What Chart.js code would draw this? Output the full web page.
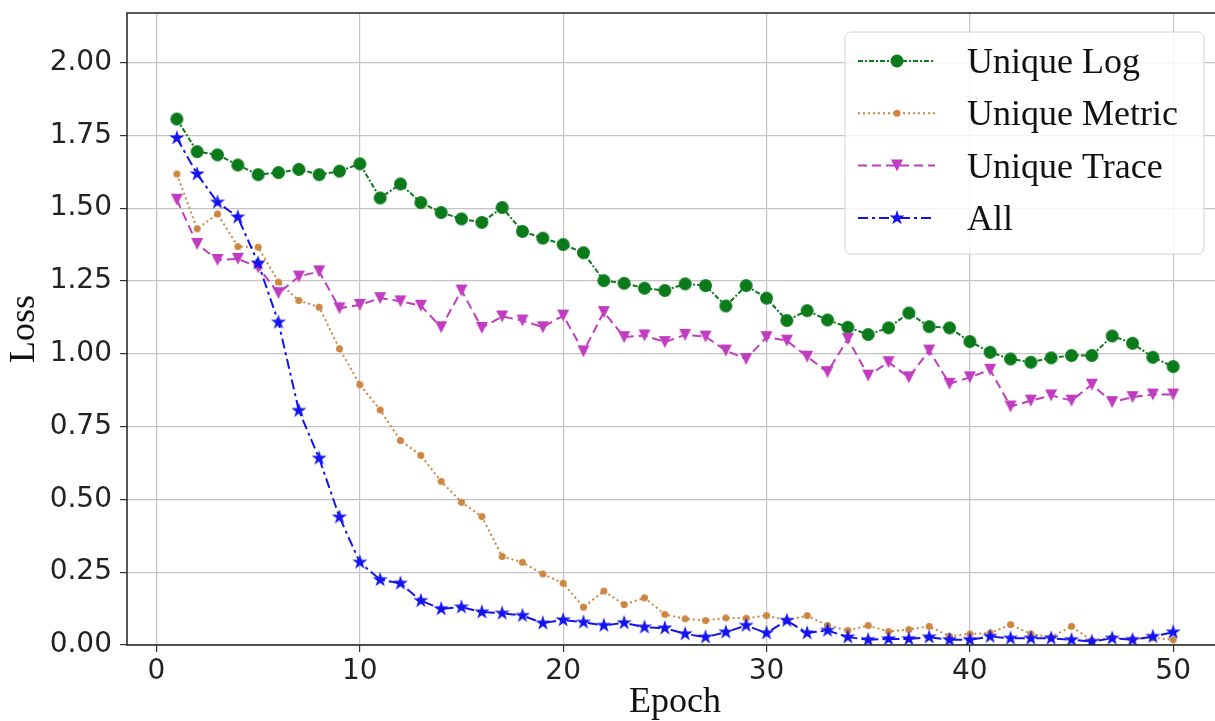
<!DOCTYPE html>
<html>
<head>
<meta charset="utf-8">
<script src="https://cdn.jsdelivr.net/npm/chart.js@4.4.1/dist/chart.umd.min.js"></script>
<style>
  html, body { margin: 0; padding: 0; background: #fff; overflow: hidden; }
  #wrap { position: absolute; left: 0; top: 0; width: 1233px; height: 721px; }
</style>
</head>
<body>
<div id="wrap"><canvas id="chart" width="1233" height="721"></canvas></div>
<script>
// data
const epochs = [1, 2, 3, 4, 5, 6, 7, 8, 9, 10, 11, 12, 13, 14, 15, 16, 17, 18, 19, 20,
  21, 22, 23, 24, 25, 26, 27, 28, 29, 30, 31, 32, 33, 34, 35, 36, 37, 38, 39, 40,
  41, 42, 43, 44, 45, 46, 47, 48, 49, 50];

const uniqueLog = [1.806, 1.694, 1.683, 1.648, 1.615, 1.622, 1.633, 1.615, 1.627, 1.652,
  1.535, 1.583, 1.519, 1.485, 1.463, 1.451, 1.502, 1.420, 1.397, 1.375,
  1.347, 1.251, 1.242, 1.225, 1.217, 1.240, 1.234, 1.164, 1.234, 1.191,
  1.114, 1.148, 1.116, 1.091, 1.066, 1.089, 1.140, 1.093, 1.089, 1.042,
  1.005, 0.982, 0.971, 0.986, 0.994, 0.994, 1.061, 1.036, 0.988, 0.956];

const uniqueMetric = [1.617, 1.429, 1.480, 1.368, 1.366, 1.246, 1.183, 1.160, 1.017, 0.894,
  0.807, 0.702, 0.651, 0.562, 0.490, 0.441, 0.304, 0.284, 0.244, 0.212,
  0.130, 0.185, 0.139, 0.162, 0.105, 0.090, 0.084, 0.093, 0.092, 0.101,
  0.085, 0.101, 0.067, 0.050, 0.067, 0.046, 0.053, 0.064, 0.030, 0.038,
  0.041, 0.070, 0.038, 0.027, 0.064, 0.015, 0.025, 0.020, 0.025, 0.018];

const uniqueTrace = [1.529, 1.377, 1.322, 1.326, 1.297, 1.208, 1.265, 1.283, 1.156, 1.168,
  1.191, 1.180, 1.165, 1.091, 1.217, 1.089, 1.128, 1.114, 1.091, 1.131,
  1.008, 1.143, 1.057, 1.063, 1.040, 1.065, 1.059, 1.011, 0.982, 1.057,
  1.045, 0.990, 0.937, 1.051, 0.925, 0.971, 0.919, 1.011, 0.897, 0.919,
  0.945, 0.819, 0.839, 0.857, 0.839, 0.894, 0.834, 0.851, 0.860, 0.860];

const allLoss = [1.741, 1.617, 1.520, 1.469, 1.311, 1.108, 0.805, 0.641, 0.439, 0.284,
  0.224, 0.212, 0.152, 0.124, 0.130, 0.113, 0.109, 0.101, 0.075, 0.086,
  0.078, 0.067, 0.076, 0.061, 0.058, 0.038, 0.027, 0.044, 0.067, 0.041,
  0.084, 0.041, 0.050, 0.027, 0.018, 0.021, 0.021, 0.027, 0.018, 0.018,
  0.029, 0.023, 0.023, 0.023, 0.018, 0.012, 0.023, 0.018, 0.029, 0.044];

const xTicks = [0, 10, 20, 30, 40, 50];
const yTicks = [0, 0.25, 0.5, 0.75, 1.0, 1.25, 1.5, 1.75, 2.0];

// marker shapes (matplotlib-ish o, ., v, *)
function drawShape(g, shape, x, y, r) {
  g.beginPath();
  if (shape === 'circle') {
    g.arc(x, y, r, 0, Math.PI * 2);
  } else if (shape === 'tri') {
    g.moveTo(x - r, y - r);
    g.lineTo(x + r, y - r);
    g.lineTo(x, y + r);
    g.closePath();
  } else if (shape === 'star') {
    for (let i = 0; i < 10; i++) {
      const rr = i % 2 === 0 ? r : r * 0.382;
      const ang = -Math.PI / 2 + i * Math.PI / 5;
      const px = x + rr * Math.cos(ang), py = y + rr * Math.sin(ang);
      if (i === 0) g.moveTo(px, py); else g.lineTo(px, py);
    }
    g.closePath();
  }
  g.fill();
}

function makeMarker(shape, r, color) {
  const s = Math.ceil(r * 2 + 4);
  const c = document.createElement('canvas');
  c.width = s; c.height = s;
  const g = c.getContext('2d');
  g.fillStyle = color;
  drawShape(g, shape, s / 2, s / 2, r);
  return c;
}

const series = [
  { label: 'Unique Log', values: uniqueLog, color: '#0a7a1a', shape: 'circle', r: 6.5, dash: [5, 2, 2, 2], order: 4 },
  { label: 'Unique Metric', values: uniqueMetric, color: '#cd853f', shape: 'circle', r: 3.5, dash: [2, 3], order: 3 },
  { label: 'Unique Trace', values: uniqueTrace, color: '#c03cc0', shape: 'tri', r: 6, dash: [9, 5], order: 2 },
  { label: 'All', values: allLoss, color: '#1414f0', shape: 'star', r: 8, dash: [10, 4, 3, 4], order: 1 }
];

const datasets = series.map(s => ({
  label: s.label,
  data: epochs.map((e, i) => ({ x: e, y: s.values[i] })),
  borderColor: s.color,
  backgroundColor: s.color,
  borderWidth: 2,
  borderDash: s.dash,
  pointStyle: makeMarker(s.shape, s.r, s.color),
  pointRadius: s.r,
  tension: 0,
  fill: false,
  order: s.order,
  _shape: s.shape,
  _r: s.r
}));

const frameAndLegend = {
  id: 'frameAndLegend',
  afterDraw(chart) {
    const ctx = chart.ctx;
    const a = chart.chartArea;
    ctx.save();
    // axes frame
    ctx.strokeStyle = '#222';
    ctx.lineWidth = 1.5;
    ctx.strokeRect(a.left, a.top, a.right - a.left, a.bottom - a.top);

    // legend box, upper right
    const bw = 359, bh = 222;
    const bx = a.right - 19 - bw, by = a.top + 19;
    ctx.beginPath();
    ctx.roundRect(bx, by, bw, bh, 6);
    ctx.fillStyle = 'rgba(255,255,255,0.82)';
    ctx.fill();
    ctx.strokeStyle = '#d4d4d4';
    ctx.lineWidth = 1;
    ctx.stroke();

    ctx.font = '36px "Liberation Serif", "Times New Roman", serif';
    ctx.textBaseline = 'alphabetic';
    ctx.textAlign = 'left';
    chart.data.datasets.forEach((ds, i) => {
      const cy = by + 29 + i * 52.3;
      ctx.beginPath();
      ctx.setLineDash(ds.borderDash);
      ctx.strokeStyle = ds.borderColor;
      ctx.lineWidth = 2;
      ctx.moveTo(bx + 13, cy);
      ctx.lineTo(bx + 90, cy);
      ctx.stroke();
      ctx.setLineDash([]);
      ctx.fillStyle = ds.borderColor;
      drawShape(ctx, ds._shape, bx + 52, cy, ds._r);
      ctx.fillStyle = '#111';
      ctx.fillText(ds.label, bx + 122, cy + 12);
    });
    ctx.restore();
  }
};

const gridOpts = { color: '#c4c4c4', lineWidth: 1.2, tickLength: 7, tickColor: '#333', tickWidth: 1.2 };

function noPad(s) {
  s.paddingLeft = 0; s.paddingRight = 0; s.paddingTop = 0; s.paddingBottom = 0;
}

new Chart(document.getElementById('chart').getContext('2d'), {
  type: 'line',
  data: { datasets: datasets },
  options: {
    responsive: false,
    animation: false,
    devicePixelRatio: 1,
    layout: { padding: { left: 0, top: 13, right: 4, bottom: 0 } },
    plugins: { legend: { display: false }, tooltip: { enabled: false } },
    scales: {
      x: {
        type: 'linear',
        min: -1.45,
        max: 52.45,
        afterFit: (s) => { s.height = 76; noPad(s); },
        afterBuildTicks: (s) => { s.ticks = xTicks.map(v => ({ value: v })); },
        grid: gridOpts,
        border: { display: false },
        ticks: { font: { family: 'DejaVu Sans', size: 28 }, color: '#222', padding: 3, maxRotation: 0, autoSkip: false },
        title: { display: true, text: 'Epoch', color: '#111', font: { family: 'Liberation Serif', size: 36, lineHeight: 1 }, padding: { top: 0, bottom: 0 } }
      },
      y: {
        type: 'linear',
        min: 0,
        max: 2.17,
        afterFit: (s) => { s.width = 127; noPad(s); },
        afterBuildTicks: (s) => { s.ticks = yTicks.map(v => ({ value: v })); },
        grid: gridOpts,
        border: { display: false },
        ticks: { font: { family: 'DejaVu Sans', size: 28 }, color: '#222', padding: 8, autoSkip: false,
          callback: (v) => Number(v).toFixed(2) },
        title: { display: true, text: 'Loss', color: '#111', font: { family: 'Liberation Serif', size: 36, lineHeight: 1 }, padding: { top: 7, bottom: 0 } }
      }
    }
  },
  plugins: [frameAndLegend]
});
</script>
</body>
</html>
